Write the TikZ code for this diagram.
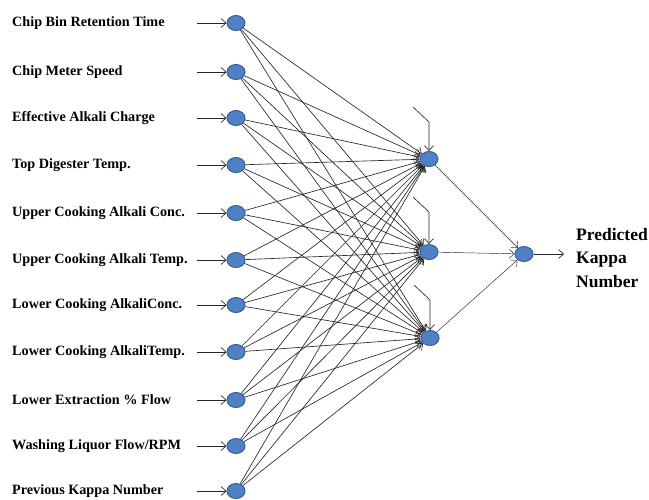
\documentclass[tikz,border=0pt]{standalone}
\usepackage{fontspec}
\setmainfont{Liberation Serif}
\usepackage{tikz}
\usetikzlibrary{shapes.geometric, arrows.meta, positioning}
\definecolor{nodefill}{HTML}{4F81C4}
\definecolor{nodeline}{HTML}{35609A}

\begin{document}
\begin{tikzpicture}[x=1pt, y=-1pt, >={Straight Barb[length=5pt, width=9pt]},
    neuron/.style={ellipse, draw=nodeline, fill=nodefill, line width=1pt, minimum width=18pt, minimum height=15pt, inner sep=0pt},
    lbl/.style={anchor=west, inner sep=0pt, font=\bfseries\fontsize{14.2}{16}\selectfont},
    wire/.style={->, line width=0.65pt, black!85}]
    \useasboundingbox (0,0) rectangle (649,499);
    % input layer
    \node[neuron] (i1) at (236,23) {};
    \node[neuron] (i2) at (236,72) {};
    \node[neuron] (i3) at (236,118) {};
    \node[neuron] (i4) at (236,165) {};
    \node[neuron] (i5) at (236,213) {};
    \node[neuron] (i6) at (236,260) {};
    \node[neuron] (i7) at (236,305) {};
    \node[neuron] (i8) at (236,352) {};
    \node[neuron] (i9) at (236,400) {};
    \node[neuron] (i10) at (236,446) {};
    \node[neuron] (i11) at (236,491) {};
    \node[lbl] (l1) at (12,23) {Chip Bin Retention Time};
    \node[lbl] (l2) at (12,72) {Chip Meter Speed};
    \node[lbl] (l3) at (12,118) {Effective Alkali Charge};
    \node[lbl] (l4) at (12,165) {Top Digester Temp.};
    \node[lbl] (l5) at (12,213) {Upper Cooking Alkali Conc.};
    \node[lbl] (l6) at (12,260) {Upper Cooking Alkali Temp.};
    \node[lbl] (l7) at (12,305) {Lower Cooking AlkaliConc.};
    \node[lbl] (l8) at (12,352) {Lower Cooking AlkaliTemp.};
    \node[lbl] (l9) at (12,400) {Lower Extraction \% Flow};
    \node[lbl] (l10) at (12,446) {Washing Liquor Flow/RPM};
    \node[lbl] (l11) at (12,491) {Previous Kappa Number};
    % hidden and output layer
    \node[neuron] (h1) at (429,159) {};
    \node[neuron] (h2) at (429,252) {};
    \node[neuron] (h3) at (430,338) {};
    \node[neuron] (o) at (524,254) {};
    \node[lbl, align=left, font=\bfseries\fontsize{17.5}{23.5}\selectfont] (out) at (576,258) {Predicted\\Kappa\\Number};
    \coordinate (b1) at (413,107);
    \coordinate (b2) at (413,197);
    \coordinate (b3) at (414,285);

    \foreach \k in {1,...,11} {
        \draw[wire] ([xshift=-30pt]i\k.west) -- (i\k);
        \foreach \j in {1,2,3}
            \draw[wire] (i\k) -- (h\j);
    }
    \foreach \j in {1,2,3} {
        \draw[wire] (b\j) -- ++(16,15) -- (h\j);
        \draw[wire, line width=0.45pt] (h\j) -- (o);
    }
    \draw[wire] (o) -- ++(40,0);
\end{tikzpicture}
\end{document}
